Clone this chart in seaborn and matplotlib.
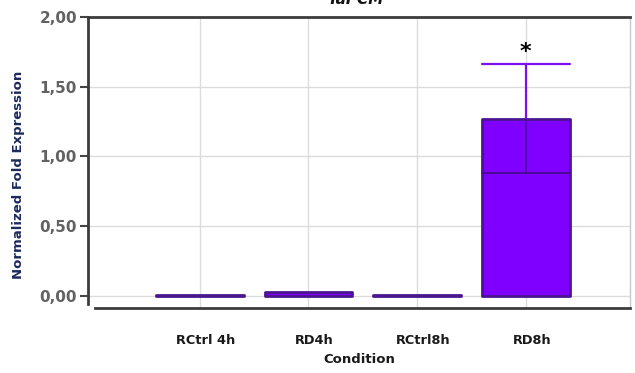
import matplotlib
matplotlib.use("Agg")
import matplotlib.pyplot as plt
import matplotlib.transforms as mtransforms
import seaborn as sns
import pandas as pd

# Expression data per condition
conditions = ["RCtrl 4h", "RD4h", "RCtrl8h", "RD8h"]
fold_expression = [0.005, 0.03, 0.005, 1.27]
sem = [0.0, 0.0, 0.0, 0.39]
significant = [False, False, False, True]
y_ticks = [0.0, 0.5, 1.0, 1.5, 2.0]
y_tick_labels = ["0,00", "0,50", "1,00", "1,50", "2,00"]

df = pd.DataFrame({"Condition": conditions, "Expression": fold_expression})

sns.set_style("white")
plt.rcParams["font.family"] = ["DejaVu Sans"]

fig = plt.figure(figsize=(6.35, 3.73), dpi=100)
ax = fig.add_axes([0.1386, 0.1743, 0.8535, 0.7801])

bar_color = "#7f00ff"
edge_color = "#4b1590"

sns.barplot(data=df, x="Condition", y="Expression", color=bar_color,
            saturation=1, width=0.81, edgecolor=edge_color, linewidth=2.0,
            errorbar=None, ax=ax, zorder=3)
for p in ax.patches:
    p.set_joinstyle("round")
    p.set_capstyle("round")

# Error bars: upper whisker above the bar, lower part drawn inside it
half_w = 0.81 / 2
for i, (v, e) in enumerate(zip(fold_expression, sem)):
    if e <= 0:
        continue
    ax.plot([i, i], [v, v + e], color="#7a10f0", lw=1.6, zorder=4)
    ax.plot([i - half_w, i + half_w], [v + e, v + e], color="#7a10f0", lw=1.6, zorder=4)
    ax.plot([i, i], [v - e, v], color="#4a0a95", lw=1.2, zorder=4)
    ax.plot([i - half_w, i + half_w], [v - e, v - e], color="#4a0a95", lw=1.4, zorder=4)
    if significant[i]:
        ax.text(i, v + e + 0.02, "*", ha="center", va="bottom",
                fontsize=16, fontweight="bold", color="black", zorder=5)

ax.set_xlim(-1.03, 3.96)
ax.set_ylim(-0.086, 2.0)

ax.set_yticks(y_ticks)
ax.set_yticklabels(y_tick_labels)
ax.tick_params(axis="y", length=6, width=1.5, color="#444444", pad=2,
               labelsize=11, labelcolor="#626262", direction="out", left=True)
for t in ax.get_yticklabels():
    t.set_fontweight("bold")
ax.tick_params(axis="x", length=0, pad=19, labelsize=9.3, labelcolor="#1a1a1a")
shift = mtransforms.ScaledTranslation(6 / 100, 0, fig.dpi_scale_trans)
for t in ax.get_xticklabels():
    t.set_fontweight("bold")
    t.set_transform(t.get_transform() + shift)

ax.grid(True, color="#dcdcdc", lw=1.0, zorder=0)
ax.set_axisbelow(True)

for side in ["left", "top", "bottom"]:
    ax.spines[side].set_visible(True)
    ax.spines[side].set_color("#3c3c3c")
    ax.spines[side].set_linewidth(2.0)
ax.spines["right"].set_visible(True)
ax.spines["right"].set_color("#c8c8c8")
ax.spines["right"].set_linewidth(1.0)
ax.spines["left"].set_bounds(-0.06, 2.0)
ax.spines["bottom"].set_bounds(-0.97, 3.96)

ax.set_xlabel("Condition", fontsize=9.5, fontweight="bold", color="#1a1a1a",
              labelpad=4)
ax.set_ylabel("Normalized Fold Expression", fontsize=9.5, fontweight="bold",
              color="#1c2a5c")
ax.yaxis.set_label_coords(-0.117, 0.457)

fig.text(355 / 635, 1 - 4 / 373, "TaPCM", ha="center", va="baseline",
         fontsize=11, fontweight="bold", fontstyle="italic", color="#111111")

fig.savefig("out.png", dpi=100)
